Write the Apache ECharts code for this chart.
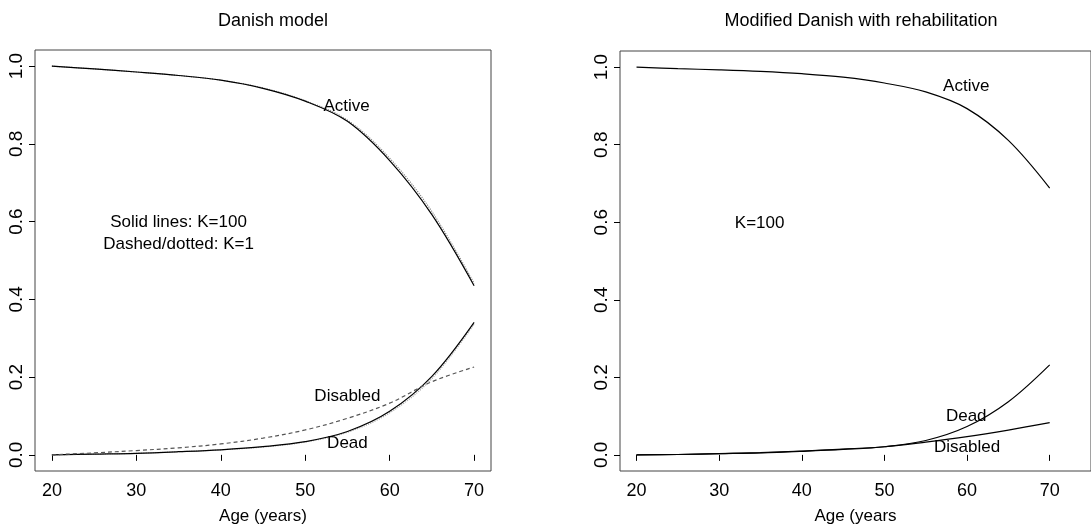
<!DOCTYPE html>
<html>
<head>
<meta charset="utf-8">
<script src="https://cdn.jsdelivr.net/npm/echarts@6/dist/echarts.min.js"></script>
<style>
  html, body { margin: 0; padding: 0; background: #fff; }
  #main { width: 1091px; height: 531px; }
</style>
</head>
<body>
<div id="main"></div>
<script>
// ages (x values)
var ages = [20, 25, 30, 35, 40, 45, 50, 55, 60, 65, 70];
var xTicks = [20, 30, 40, 50, 60, 70];
var yTicks = [0, 0.2, 0.4, 0.6, 0.8, 1.0];

// left panel: Danish model
var leftActiveK100 = [1.0, 0.993, 0.985, 0.976, 0.964, 0.943, 0.910, 0.858, 0.757, 0.618, 0.435];
var leftActiveK1   = [1.0, 0.993, 0.985, 0.976, 0.964, 0.944, 0.911, 0.861, 0.763, 0.626, 0.441];
var leftDeadK100   = [0, 0.002, 0.004, 0.008, 0.013, 0.021, 0.034, 0.060, 0.112, 0.202, 0.341];
var leftDeadK1     = [0, 0.002, 0.004, 0.008, 0.013, 0.020, 0.033, 0.058, 0.108, 0.196, 0.336];
var leftDisabledK1 = [0, 0.005, 0.011, 0.018, 0.028, 0.043, 0.064, 0.094, 0.133, 0.188, 0.226];

// right panel: modified Danish with rehabilitation
var rightActive   = [1.0, 0.996, 0.993, 0.989, 0.983, 0.974, 0.959, 0.936, 0.893, 0.811, 0.688];
var rightDead     = [0, 0.001, 0.003, 0.005, 0.009, 0.014, 0.021, 0.037, 0.073, 0.137, 0.232];
var rightDisabled = [0, 0.001, 0.003, 0.006, 0.010, 0.015, 0.021, 0.033, 0.047, 0.064, 0.083];

// text notes [text, age, value]
var leftNotes = [
  ['Active', 54.9, 0.897],
  ['Solid lines: K=100', 35.0, 0.597],
  ['Dashed/dotted: K=1', 35.0, 0.541],
  ['Disabled', 55.0, 0.150],
  ['Dead', 55.0, 0.030]
];
var rightNotes = [
  ['Active', 59.9, 0.950],
  ['K=100', 34.9, 0.597],
  ['Dead', 59.9, 0.099],
  ['Disabled', 60.0, 0.019]
];

var font = '"Liberation Sans", Arial, Helvetica, sans-serif';

function pairs(ys){
  var out = [];
  for (var i = 0; i < ages.length; i++) out.push([ages[i], ys[i]]);
  return out;
}

function lineSeries(idx, ys, color, type){
  return {
    type: 'line', xAxisIndex: idx, yAxisIndex: idx,
    data: pairs(ys), smooth: 0.35, showSymbol: false, silent: true,
    lineStyle: { color: color, width: 1.2, type: type }
  };
}

function noteSeries(idx, notes){
  var d = [];
  for (var i = 0; i < notes.length; i++){
    d.push({ name: notes[i][0], value: [notes[i][1], notes[i][2]] });
  }
  return {
    type: 'scatter', xAxisIndex: idx, yAxisIndex: idx, silent: true,
    symbol: 'circle', symbolSize: 0, itemStyle: { color: '#000', opacity: 1 },
    label: { show: true, position: [0, 0], align: 'center', verticalAlign: 'middle',
             formatter: '{b}', color: '#000', opacity: 1, fontFamily: font, fontSize: 17 },
    data: d, z: 5
  };
}

function xAxis(idx, max, name){
  return {
    type: 'value', gridIndex: idx, min: 18, max: max,
    name: name, nameLocation: 'middle', nameGap: 37,
    nameTextStyle: { fontFamily: font, fontSize: 17, color: '#000' },
    axisLine: { show: false },
    splitLine: { show: false },
    axisTick: { show: true, length: 6, lineStyle: { color: '#000' }, customValues: xTicks },
    axisLabel: { fontFamily: font, fontSize: 18, color: '#000', margin: 11, customValues: xTicks }
  };
}

function yAxis(idx){
  return {
    type: 'value', gridIndex: idx, min: -0.0416, max: 1.0416,
    axisLine: { show: false },
    splitLine: { show: false },
    axisTick: { show: true, length: 6, lineStyle: { color: '#000' }, customValues: yTicks },
    axisLabel: { fontFamily: font, fontSize: 19, color: '#000', rotate: 90, margin: 9,
                 customValues: yTicks, formatter: function(v){ return v.toFixed(1); } }
  };
}

var chart = echarts.init(document.getElementById('main'));

var option = {
  animation: false,
  backgroundColor: '#fff',
  title: [
    { text: 'Danish model', left: 268, top: 7, textAlign: 'center',
      textStyle: { fontFamily: font, fontSize: 18, fontWeight: 'normal', color: '#000' } },
    { text: 'Modified Danish with rehabilitation', left: 856, top: 7, textAlign: 'center',
      textStyle: { fontFamily: font, fontSize: 18, fontWeight: 'normal', color: '#000' } }
  ],
  grid: [
    { left: 35, top: 50, width: 456, height: 421, show: true, borderColor: '#444', borderWidth: 1 },
    { left: 620, top: 51, width: 477, height: 420, show: true, borderColor: '#444', borderWidth: 1 }
  ],
  xAxis: [ xAxis(0, 72, 'Age (years)'), xAxis(1, 75, 'Age (years') ],
  yAxis: [ yAxis(0), yAxis(1) ],
  series: [
    lineSeries(0, leftActiveK1, '#888', 'dotted'),
    lineSeries(0, leftActiveK100, '#000', 'solid'),
    lineSeries(0, leftDeadK1, '#aaa', 'dotted'),
    lineSeries(0, leftDeadK100, '#000', 'solid'),
    lineSeries(0, leftDisabledK1, '#555', [4, 3]),
    noteSeries(0, leftNotes),
    lineSeries(1, rightActive, '#000', 'solid'),
    lineSeries(1, rightDead, '#000', 'solid'),
    lineSeries(1, rightDisabled, '#000', 'solid'),
    noteSeries(1, rightNotes)
  ]
};

chart.setOption(option);
</script>
</body>
</html>
